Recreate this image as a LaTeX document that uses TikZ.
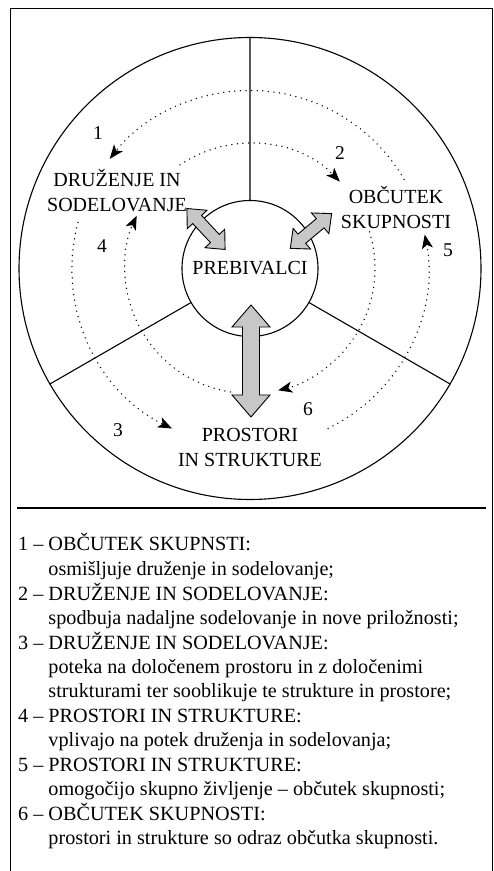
\documentclass[tikz,border=0pt]{standalone}
\usepackage{fontspec}
\setmainfont{Liberation Serif}
\usetikzlibrary{arrows.meta}

\tikzset{
 lbl/.style={align=center, inner sep=0pt, font=\fontsize{20}{25}\selectfont},
 num/.style={inner sep=0pt, font=\fontsize{19.5}{24}\selectfont},
 flow/.style={line width=1.5pt, line cap=round, dash pattern=on 0pt off 5.6pt, -{Stealth[length=14pt,width=11pt,inset=3.5pt,line cap=butt]}},
 fat/.style={draw=black, line width=0.9pt, fill=black!22},
 rim/.style={draw, circle, line width=1.1pt},
}

% centre, angle, half length, head length, head half width, shaft half width
\newcommand{\fatarrow}[6]{%
\draw[fat, shift={#1}, rotate=#2] (-#3,0) -- ++(#4,#5) -- ++(0,-#5+#6) -- (#3-#4,#6) -- ++(0,#5-#6)
 -- (#3,0) -- ++(-#4,-#5) -- ++(0,#5-#6) -- (-#3+#4,-#6) -- ++(0,-#5+#6) -- cycle;}

\begin{document}
\begin{tikzpicture}[x=1pt,y=1pt]
\useasboundingbox (0,0) rectangle (494,871);

\draw[line width=0.9pt] (10,-2) -- (10,863) -- (492,863) -- (492,-2);
\draw[line width=1.3pt] (17,363) -- (486,363);

\coordinate (c) at(250,602.5);
\node[rim, minimum size=462pt] (outer) at(c) {};
\node[rim, lbl, minimum size=136pt] (preb) at(c) {PREBIVALCI};

\draw[line width=1.1pt] (preb.90) -- (outer.90)
	(preb.210) -- (outer.210)
	(preb.330) -- (outer.330);

\node[lbl] (druz) at(117,680) {DRUŽENJE IN\\SODELOVANJE};
\node[lbl] (obc) at(396,663.5) {OBČUTEK\\SKUPNOSTI};
\node[lbl] (prost) at(250,424) {PROSTORI\\IN STRUKTURE};

\node[num] (n1) at(98,737.5) {1};
\node[num] (n2) at(340,718) {2};
\node[num] (n3) at(118,441) {3};
\node[num] (n4) at(102,624.5) {4};
\node[num] (n5) at(448,621) {5};
\node[num] (n6) at(308,462) {6};

%dotted cycles
\draw[flow] ([shift={(30:178)}]c) arc[start angle=30, end angle=142, radius=178];
\draw[flow] ([shift={(124:125)}]c) arc[start angle=124, end angle=44, radius=125];
\draw[flow] ([shift={(165:178)}]c) arc[start angle=165, end angle=244, radius=178];
\draw[flow] ([shift={(261:125)}]c) arc[start angle=261, end angle=155, radius=125];
\draw[flow] ([shift={(296:178)}]c) arc[start angle=296, end angle=371, radius=178];
\draw[flow] ([shift={(17:125)}]c) arc[start angle=17, end angle=-77, radius=125];

\fatarrow{(251,510)}{90}{56}{22}{19}{8.5}
\fatarrow{(206,642)}{133}{28}{15}{13.5}{6}
\fatarrow{(311,640)}{40}{27}{15}{13.5}{6}

\node[anchor=base west, inner sep=0pt, font=\fontsize{20.2}{24.4}\selectfont] (legend) at(18,320) {%
\begin{tabular}[t]{@{}l@{\ }l@{}}
1 – & OBČUTEK SKUPNSTI:\\
 & osmišljuje druženje in sodelovanje;\\
2 – & DRUŽENJE IN SODELOVANJE:\\
 & spodbuja nadaljne sodelovanje in nove priložnosti;\\
3 – & DRUŽENJE IN SODELOVANJE:\\
 & poteka na določenem prostoru in z določenimi\\
 & strukturami ter sooblikuje te strukture in prostore;\\
4 – & PROSTORI IN STRUKTURE:\\
 & vplivajo na potek druženja in sodelovanja;\\
5 – & PROSTORI IN STRUKTURE:\\
 & omogočijo skupno življenje – občutek skupnosti;\\
6 – & OBČUTEK SKUPNOSTI:\\
 & prostori in strukture so odraz občutka skupnosti.
\end{tabular}};
\end{tikzpicture}
\end{document}
